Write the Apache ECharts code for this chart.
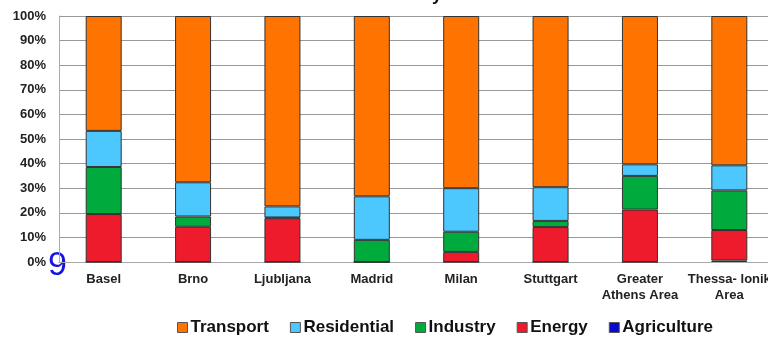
<!DOCTYPE html>
<html>
<head>
<meta charset="utf-8">
<script src="https://cdn.jsdelivr.net/npm/echarts@6/dist/echarts.min.js"></script>
<style>
  html, body { margin: 0; padding: 0; background: #fff; }
  #chart { width: 768px; height: 337px; }
</style>
</head>
<body>
<div id="chart"></div>
<script>
// Share of emissions per activity sector, in percent of each city's total
var cities = ['Basel', 'Brno', 'Ljubljana', 'Madrid', 'Milan', 'Stuttgart', 'Greater\nAthens Area', 'Thessa- lonik\nArea'];
var agriculture = [0, 0, 0, 0, 0, 0, 0, 0.6];
var energy      = [19.5, 14.3, 17.8, 0, 4.1, 14.2, 21.3, 12.4];
var industry    = [19.1, 4.2, 0.3, 9.0, 8.2, 2.5, 13.7, 16.1];
var residential = [14.7, 13.9, 4.5, 17.7, 17.7, 13.7, 4.7, 10.2];
var transport   = [46.7, 67.6, 77.4, 73.3, 70.0, 69.6, 60.3, 60.7];
var yTicks = [0, 10, 20, 30, 40, 50, 60, 70, 80, 90, 100];

var FONT = '"Liberation Sans", Arial, sans-serif';

function barSeries(name, data, color) {
  return {
    name: name,
    type: 'bar',
    stack: 'share',
    data: data,
    barWidth: 36,
    itemStyle: { color: color, borderColor: '#333', borderWidth: 1 },
    emphasis: { disabled: true }
  };
}

var chart = echarts.init(document.getElementById('chart'), null, { renderer: 'canvas' });
chart.setOption({
  animation: false,
  backgroundColor: '#fff',
  // plot area runs past the right edge of the canvas
  grid: { left: 59, width: 715, top: 16, bottom: 75, outerBoundsMode: 'none', containLabel: false },
  legend: {
    left: 172,
    top: 314,
    itemWidth: 10,
    itemHeight: 10,
    itemGap: 21,
    icon: 'rect',
    data: ['Transport', 'Residential', 'Industry', 'Energy', 'Agriculture'],
    textStyle: { fontFamily: FONT, fontWeight: 'bold', fontSize: 17, color: '#111', padding: [0, 0, 0, -2] },
    itemStyle: { borderColor: '#555', borderWidth: 1 }
  },
  xAxis: {
    type: 'category',
    data: cities,
    axisLine: { lineStyle: { color: '#aaa', width: 1 } },
    axisTick: { show: false },
    axisLabel: {
      fontFamily: FONT, fontWeight: 'bold', fontSize: 13, color: '#222',
      margin: 9, lineHeight: 16, interval: 0
    }
  },
  yAxis: {
    type: 'value',
    min: yTicks[0],
    max: yTicks[yTicks.length - 1],
    interval: 10,
    axisLine: { show: true, lineStyle: { color: '#aaa', width: 1 } },
    axisTick: { show: false },
    splitLine: { lineStyle: { color: '#999', width: 1 } },
    axisLabel: {
      formatter: '{value}%',
      fontFamily: FONT, fontWeight: 'bold', fontSize: 13, color: '#222',
      margin: 13
    }
  },
  series: [
    barSeries('Agriculture', agriculture, '#0a0acc'),
    barSeries('Energy', energy, '#ee1b2c'),
    barSeries('Industry', industry, '#00ab3e'),
    barSeries('Residential', residential, '#4cc8ff'),
    barSeries('Transport', transport, '#ff7400')
  ],
  graphic: [
    {
      type: 'text',
      left: 48,
      top: 249,
      silent: true,
      style: { text: '9', fontFamily: FONT, fontSize: 34, fill: '#1515e0' }
    },
    {
      type: 'text',
      x: 442,
      y: 4,
      silent: true,
      style: {
        text: 'Emissions inventory',
        fontFamily: FONT, fontWeight: 'bold', fontSize: 18, fill: '#111',
        align: 'right', verticalAlign: 'bottom'
      }
    }
  ]
});
</script>
</body>
</html>
